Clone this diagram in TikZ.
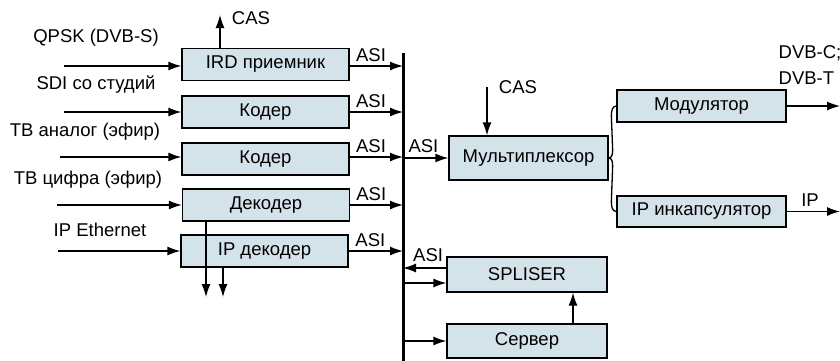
\documentclass[tikz,border=0pt]{standalone}
\usepackage{fontspec}
\setmainfont{Liberation Sans}
\usetikzlibrary{arrows.meta,calc}
\definecolor{boxblue}{RGB}{212,226,234}

\begin{document}
\begin{tikzpicture}[x=1pt,y=-1pt,line width=1.3pt,>={Latex[length=13pt,width=9pt]},font=\fontsize{18.5}{22}\selectfont,
  block/.style={rectangle, draw=black, line width=1.3pt, fill=boxblue, minimum width=167pt, minimum height=32pt, inner sep=0pt},
  lbl/.style={inner sep=1pt}]
\useasboundingbox (0,0) rectangle (840,360);
% left column
\draw (265.5,64.5) node[block] (ird) {IRD приемник};
\draw (265.5,112) node[block] (cod1) {Кодер};
\draw (265.5,159) node[block] (cod2) {Кодер};
\draw (266,205) node[block] (dec) {Декодер};
\draw (264.5,251) node[block] (ipdec) {IP декодер};
% right part
\draw (528.5,158) node[block, minimum width=159pt, minimum height=44pt] (mux) {Мультиплексор};
\draw (701.5,106) node[block, minimum width=169pt] (mod) {Модулятор};
\draw (701.5,211.5) node[block, minimum width=169pt, minimum height=31pt] (ipenc) {IP инкапсулятор};
\draw (527,274.5) node[block, minimum width=160pt, minimum height=35pt] (spl) {SPLISER};
\draw (527,341) node[block, minimum width=160pt, minimum height=34pt] (srv) {Сервер};
% bus
\coordinate (bustop) at (403,53);
\coordinate (busbot) at (403,362);
\draw [line width=3pt] (bustop) -- (busbot);
% inputs
\coordinate (in1) at (64,66);
\coordinate (in2) at (64,112);
\coordinate (in3) at (60,157);
\coordinate (in4) at (57,205);
\coordinate (in5) at (58,251);
\draw [->] (in1) -- (in1 -| ird.west);
\draw [->] (in2) -- (cod1.west);
\draw [->] (in3) -- (in3 -| cod2.west);
\draw [->] (in4) -- (dec.west);
\draw [->] (in5) -- (ipdec.west);
\draw (96,38) node[lbl] (tqpsk) {QPSK (DVB-S)};
\draw (96,85) node[lbl] (tsdi) {SDI со студий};
\draw (85,132) node[lbl] (tan) {ТВ аналог (эфир)};
\draw (88,180) node[lbl] (tdig) {ТВ цифра (эфир)};
\draw (100,230) node[lbl] (teth) {IP Ethernet};
% outputs to the bus
\draw [->] (ird.east |- in1) -- (in1 -| bustop) node[pos=0.4,above,inner sep=4pt] (asi1) {ASI};
\draw [->] (cod1.east) -- (cod1.east -| bustop) node[pos=0.4,above,inner sep=4pt] (asi2) {ASI};
\draw [->] (cod2.east |- in3) -- (in3 -| bustop) node[pos=0.4,above,inner sep=4pt] (asi3) {ASI};
\draw [->] (dec.east) -- (dec.east -| bustop) node[pos=0.4,above,inner sep=4pt] (asi4) {ASI};
\draw [->] (ipdec.east) -- (ipdec.east -| bustop) node[pos=0.4,above,inner sep=4pt] (asi5) {ASI};
% CAS of the receiver
\coordinate (cas1) at (220,15);
\draw [->] (cas1 |- ird.north) -- (cas1);
\draw (251,18) node[lbl] (tcas1) {CAS};
% outputs of the decoders
\coordinate (dn1) at (206,297);
\coordinate (dn2) at (223,297);
\draw [->] (dn1 |- dec.south) -- (dn1);
\draw [->] (dn2 |- ipdec.south) -- (dn2);
% multiplexer
\draw [->] (mux.west -| bustop) -- (mux.west) node[pos=0.45,above,inner sep=5pt] (asi6) {ASI};
\coordinate (cas2) at (487,87);
\draw [->] (cas2) -- (cas2 |- mux.north);
\draw (518,87) node[lbl] (tcas2) {CAS};
\draw (mod.west) to[out=180,in=90] ($(mod.west)+(-5,10)$) -- ($(mux.east)+(4,-8)$) to[out=-90,in=0] (mux.east)
  to[out=0,in=90] ($(mux.east)+(4,8)$) -- ($(ipenc.west)+(-5,-10)$) to[out=-90,in=180] (ipenc.west);
\coordinate (outmod) at (840,106);
\coordinate (outip) at (840,211.5);
\draw [->] (mod.east) -- (outmod);
\draw [->] (ipenc.east) -- (outip);
\draw (777,65) node[lbl,anchor=west,align=left,font=\fontsize{18.5}{26}\selectfont] (tdvb) {DVB-C;\\DVB-T};
\draw (810,200) node[lbl] (tip) {IP};
% splitter and server
\draw [->] ([yshift=6.5pt]spl.west) -- ([yshift=6.5pt]spl.west -| bustop) node[pos=0.42,above,inner sep=6pt] (asi7) {ASI};
\draw [->] ([yshift=-8.5pt]spl.west -| bustop) -- ([yshift=-8.5pt]spl.west);
\draw [->] (srv.west -| bustop) -- (srv.west);
\coordinate (up) at (573,0);
\draw [->] (up |- srv.north) -- (up |- spl.south);
\end{tikzpicture}
\end{document}
